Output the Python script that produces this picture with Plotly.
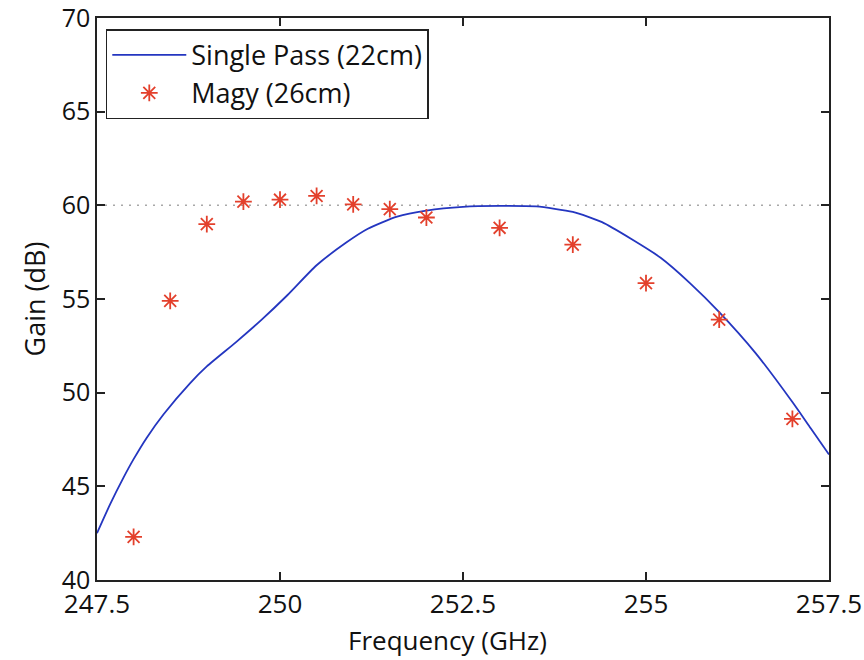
import plotly.graph_objects as go

# Single Pass (22cm) curve
sp_freq = [247.5, 247.68, 247.86, 248.0, 248.18, 248.41, 248.77, 249.0, 249.4, 249.75,
           250.1, 250.5, 250.9, 251.2, 251.6, 252.0, 252.5, 253.0, 253.5, 254.0,
           254.4, 254.8, 255.2, 255.6, 256.0, 256.5, 257.0, 257.25, 257.5]
sp_gain = [42.5, 44.05, 45.45, 46.45, 47.6, 48.85, 50.5, 51.4, 52.7, 53.9,
           55.2, 56.8, 58.0, 58.75, 59.4, 59.72, 59.92, 59.97, 59.94, 59.65,
           59.1, 58.2, 57.2, 55.85, 54.3, 52.1, 49.5, 48.1, 46.7]

# Magy (26cm) points
magy_freq = [248, 248.5, 249, 249.5, 250, 250.5, 251, 251.5, 252, 253, 254, 255, 256, 257]
magy_gain = [42.3, 54.9, 59.0, 60.2, 60.3, 60.5, 60.05, 59.8, 59.35, 58.8, 57.9, 55.85, 53.9, 48.6]

ref_level = 60
x_ticks = [247.5, 250, 252.5, 255, 257.5]
x_ticktext = ["247.5", "250", "252.5", "255", "257.5"]
y_ticks = [40, 45, 50, 55, 60, 65, 70]

FONT = "Open Sans"

fig = go.Figure()
fig.add_trace(go.Scatter(
    x=[x_ticks[0], x_ticks[-1]], y=[ref_level, ref_level], mode="lines",
    line=dict(color="#a8a8a8", width=1.5, dash="2px,6px"), showlegend=False, hoverinfo="skip"))
fig.add_trace(go.Scatter(
    x=sp_freq, y=sp_gain, mode="lines", name="Single Pass (22cm)",
    line=dict(color="#2436c0", width=1.8, shape="spline", smoothing=0.6)))
fig.add_trace(go.Scatter(
    x=magy_freq, y=magy_gain, mode="markers", name="Magy (26cm)",
    marker=dict(symbol="asterisk-open", size=14, color="#e3402c",
                line=dict(color="#e3402c", width=1.8))))

axis_common = dict(showgrid=False, zeroline=False, showline=True, linecolor="#222",
                   linewidth=1.5, mirror="ticks", ticks="inside", ticklen=8,
                   tickcolor="#222", tickwidth=1.5, ticklabeloverflow="allow",
                   automargin=False)

fig.update_layout(
    width=864, height=660,
    margin=dict(l=97, r=35, t=18, b=80),
    paper_bgcolor="white", plot_bgcolor="white",
    font=dict(family=FONT, color="#111"),
    xaxis=dict(range=[247.5, 257.5], tickvals=x_ticks, ticktext=x_ticktext,
               tickfont=dict(family=FONT, size=26, color="#111"),
               **axis_common),
    yaxis=dict(range=[40, 70], tickvals=y_ticks,
               tickfont=dict(family=FONT, size=25, color="#111"),
               title=dict(text="Gain (dB)", font=dict(family=FONT, size=27), standoff=8),
               **axis_common),
    legend=dict(x=0.012, y=0.98, xanchor="left", yanchor="top",
                bgcolor="white", bordercolor="#222", borderwidth=1.5,
                font=dict(family=FONT, size=27, color="#111"),
                tracegroupgap=0, itemwidth=74),
    annotations=[dict(text="Frequency (GHz)", xref="paper", yref="paper",
                      x=0.4795, y=-0.107, xanchor="center", yanchor="middle",
                      showarrow=False, font=dict(family=FONT, size=26, color="#111"))],
)

fig.write_html("out.html")
